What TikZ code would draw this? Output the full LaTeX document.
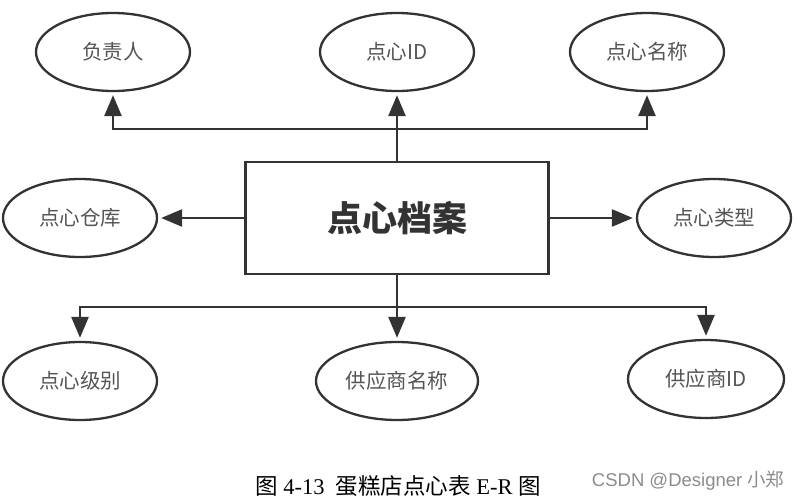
\documentclass[tikz,border=0pt]{standalone}
\usepackage{fontspec}
\setmainfont{Liberation Serif}
\newfontfamily\cjk{Noto Sans CJK SC}
\newfontfamily\wm{Liberation Sans}
\usetikzlibrary{arrows.meta,shapes.geometric}
\definecolor{ln}{HTML}{333333}
\definecolor{tx}{HTML}{555555}
\tikzset{
  attr/.style={ellipse, draw=ln, line width=2.3pt, minimum width=154pt, minimum height=78pt, inner sep=0pt, text=tx, font=\cjk\fontsize{20.5}{20.5}\selectfont},
  ent/.style={rectangle, draw=ln, line width=2.6pt, minimum width=303pt, minimum height=112pt, inner sep=0pt, text=ln, font=\cjk\bfseries\fontsize{35}{35}\selectfont},
  conn/.style={draw=ln, line width=2.6pt, shorten >=3pt, -{Triangle[length=21pt,width=17pt]}},
}
\begin{document}
\begin{tikzpicture}[x=1pt,y=-1pt]
\useasboundingbox (0,0) rectangle (801,501);
\fill[white] (0,0) rectangle (801,501);
\node[ent] (e) at (397,218) {点心档案};
\node[attr] (a1) at (113,52) {负责人};
\node[attr] (a2) at (397,52) {点心ID};
\node[attr] (a3) at (647,52) {点心名称};
\node[attr] (a4) at (80,218) {点心仓库};
\node[attr] (a5) at (714,218) {点心类型};
\node[attr] (a6) at (80,381) {点心级别};
\node[attr, minimum width=162pt] (a7) at (397,381) {供应商名称};
\node[attr, minimum width=156pt] (a8) at (706,379) {供应商ID};
\coordinate (t) at (397,129);
\coordinate (b) at (397,307);
\draw[conn] (e.north) -- (a2.south);
\draw[conn] (t) -| (a1.south);
\draw[conn] (t) -| (a3.south);
\draw[conn] (e.west) -- (a4.east);
\draw[conn] (e.east) -- (a5.west);
\draw[conn] (e.south) -- (a7.north);
\draw[conn] (b) -| (a6.north);
\draw[conn] (b) -| (a8.north);
\node[font=\fontsize{22.5}{22.5}\selectfont] (cap) at (398,486) {{\cjk 图}~4-13~~{\cjk 蛋糕店点心表}~E-R~{\cjk 图}};
\node[font=\wm\fontsize{18.5}{18.5}\selectfont, text=black!45, anchor=east] (w) at (788,481) {CSDN @Designer {\cjk 小郑}};
\end{tikzpicture}
\end{document}
